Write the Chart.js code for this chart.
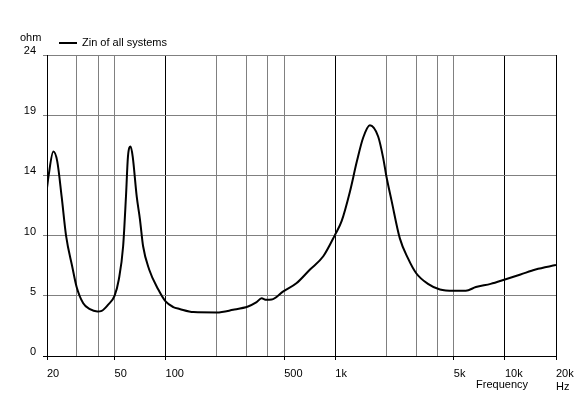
<!DOCTYPE html>
<html>
<head>
<meta charset="utf-8">
<script src="https://cdn.jsdelivr.net/npm/chart.js@4.4.0/dist/chart.umd.min.js"></script>
<style>
  html, body { margin: 0; padding: 0; background: #fff; }
  #wrap { width: 584px; height: 399px; }
</style>
</head>
<body>
<div id="wrap"><canvas id="zin"></canvas></div>
<script>
// impedance curve (Hz, ohm)
const freqs = [20, 20.4, 21.8, 23, 24.4, 25.9, 28.2, 29.9, 32.7, 35.8, 39.6, 42, 45.9, 50,
  53, 56.2, 58.4, 60, 62.2, 64, 67.6, 70.6, 73.7, 80, 90.6, 100, 111, 121, 146, 200,
  250, 306, 342, 368, 392, 422, 494, 590, 710, 850, 1000, 1090, 1220, 1340, 1460,
  1600, 1790, 1916, 2000, 2150, 2400, 2680, 3000, 3520, 4140, 5000, 5880, 6740,
  8240, 10000, 12360, 15160, 20000];
const ohms = [13.4, 14.3, 16.3, 15.5, 12.7, 9.6, 7.1, 5.5, 4.2, 3.73, 3.55, 3.6, 4.1, 4.8,
  6.1, 8.75, 12.7, 15.9, 16.7, 15.9, 12.7, 10.9, 8.75, 6.9, 5.3, 4.35, 3.9, 3.75, 3.5, 3.47,
  3.68, 3.95, 4.27, 4.6, 4.48, 4.5, 5.15, 5.8, 6.9, 7.95, 9.7, 10.75, 13.1, 15.5, 17.4,
  18.4, 17.5, 15.8, 14.35, 12.35, 9.4, 7.8, 6.6, 5.75, 5.3, 5.2, 5.2, 5.5,
  5.75, 6.1, 6.5, 6.9, 7.25];

// axes
const xTicks = [20, 30, 40, 50, 100, 200, 300, 400, 500, 1000, 2000, 3000, 4000, 5000, 10000, 20000];
const xLabels = {20: '20', 50: '50', 100: '100', 500: '500', 1000: '1k', 5000: '5k', 10000: '10k', 20000: ['20k', 'Hz']};
const darkX = [20, 100, 1000, 10000, 20000];
const yTicks = [0, 4.8, 9.6, 14.4, 19.2, 24];

const GRAY = '#808080';
const FONT = {family: '"Liberation Sans", Arial, sans-serif', size: 11};

const points = freqs.map((f, i) => ({x: f, y: ohms[i]}));

// extra texts: unit, legend, axis name
const extraText = {
    id: 'extraText',
    afterDraw(chart) {
        const c = chart.ctx;
        c.save();
        c.font = '11px "Liberation Sans", Arial, sans-serif';
        c.fillStyle = '#000';
        c.textBaseline = 'middle';
        c.textAlign = 'left';
        c.fillText('ohm', 20, 38);
        c.fillText('Zin of all systems', 82, 43);
        c.textAlign = 'right';
        c.fillText('Frequency', 528, 385);
        c.strokeStyle = '#000';
        c.lineWidth = 2;
        c.beginPath();
        c.moveTo(59, 43);
        c.lineTo(77, 43);
        c.stroke();
        c.restore();
    }
};

const config = {
    type: 'line',
    data: {
        datasets: [{
            label: 'Zin of all systems',
            data: points,
            borderColor: '#000',
            borderWidth: 2,
            pointRadius: 0,
            cubicInterpolationMode: 'monotone',
            fill: false
        }]
    },
    options: {
        responsive: true,
        maintainAspectRatio: false,
        animation: false,
        layout: {padding: {top: 55, right: 28, bottom: 0, left: 0}},
        plugins: {
            legend: {display: false},
            tooltip: {enabled: false}
        },
        scales: {
            x: {
                type: 'logarithmic',
                min: 20,
                max: 20000,
                afterBuildTicks: s => { s.ticks = xTicks.map(v => ({value: v})); },
                afterFit: s => { s.height = 43; },
                ticks: {
                    autoSkip: false,
                    maxRotation: 0,
                    align: 'start',
                    padding: 7,
                    color: '#000',
                    font: FONT,
                    callback: v => xLabels[v] || ''
                },
                grid: {
                    color: ctx => darkX.includes(ctx.tick && ctx.tick.value) ? '#000' : GRAY,
                    tickColor: ctx => xLabels[ctx.tick && ctx.tick.value] ? '#000' : 'rgba(0,0,0,0)',
                    tickLength: 4
                },
                border: {color: '#000'}
            },
            y: {
                min: 0,
                max: 24,
                afterBuildTicks: s => { s.ticks = yTicks.map(v => ({value: v})); },
                afterFit: s => { s.width = 47; },
                ticks: {
                    padding: 7,
                    labelOffset: -4,
                    color: '#000',
                    font: FONT,
                    callback: v => Math.round(v)
                },
                grid: {
                    color: ctx => (ctx.tick && ctx.tick.value === 0) ? '#000' : GRAY,
                    tickLength: 4
                },
                border: {color: '#000'}
            }
        }
    },
    plugins: [extraText]
};

var zinChart = new Chart(document.getElementById('zin'), config);
</script>
</body>
</html>
